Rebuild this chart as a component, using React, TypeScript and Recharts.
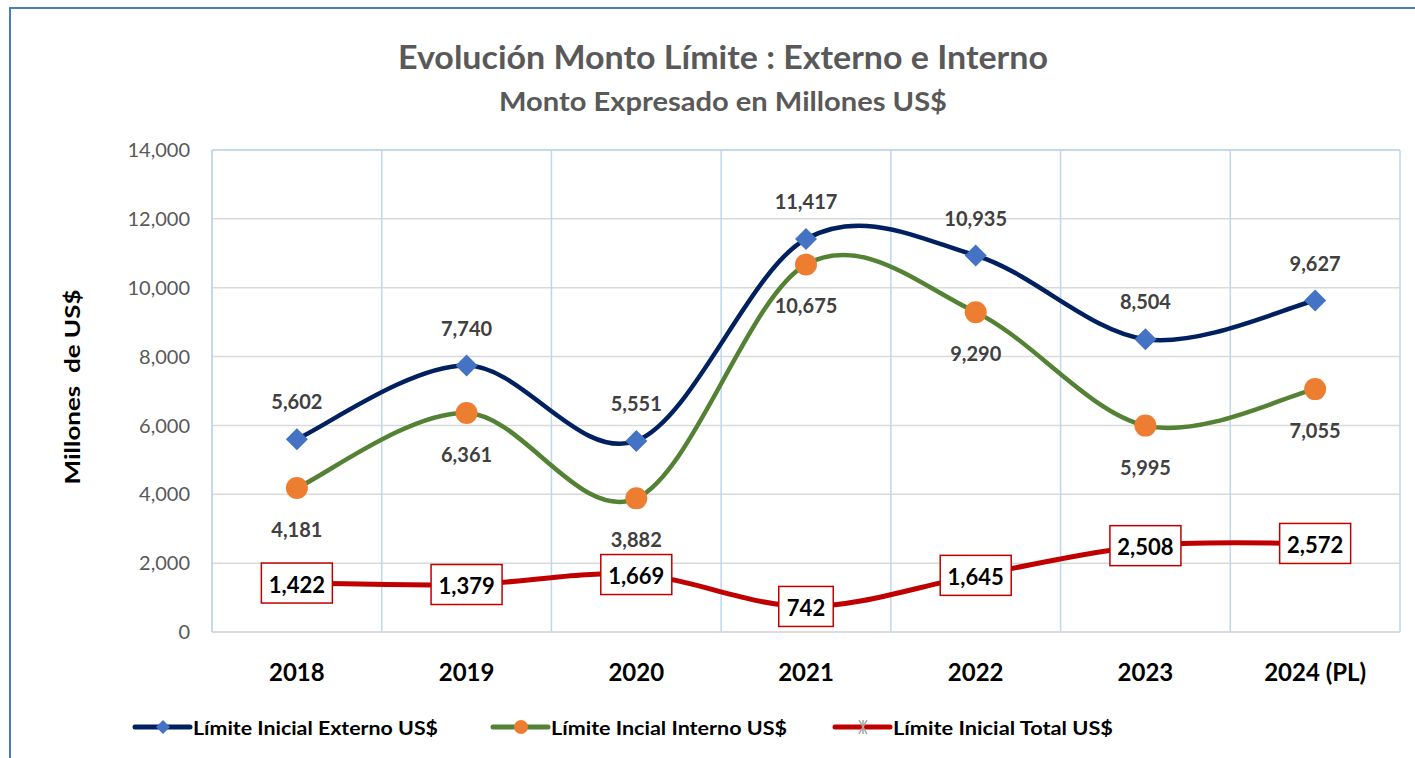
import { LineChart, Line, XAxis, YAxis, CartesianGrid, LabelList, ReferenceLine } from 'recharts'

const categories = ['2018', '2019', '2020', '2021', '2022', '2023', '2024 (PL)']
const externo = [5602, 7740, 5551, 11417, 10935, 8504, 9627]
const interno = [4181, 6361, 3882, 10675, 9290, 5995, 7055]
const total = [1422, 1379, 1669, 742, 1645, 2508, 2572]
const yTicks = [0, 2000, 4000, 6000, 8000, 10000, 12000, 14000]
const seriesNames = ['Límite Inicial Externo US$', 'Límite Incial Interno US$', 'Límite Inicial Total US$']

const data = categories.map((c, i) => ({
  year: c,
  externo: externo[i],
  interno: interno[i],
  total: total[i],
}))

const FONT = 'Lato, "Open Sans", sans-serif'
const NAVY = '#002060'
const GREEN = '#548235'
const RED = '#c00000'
const BLUE_GRID = '#bdd7ee'
const GRAY_GRID = '#d9d9d9'

const fmt = (v: number) => v.toLocaleString('en-US')

// Excel-style smoothing (Catmull-Rom, tension 1/6)
const excelSmooth = (context: any) => {
  let pts: [number, number][] = []
  return {
    areaStart() {},
    areaEnd() {},
    lineStart() {
      pts = []
    },
    lineEnd() {
      if (!pts.length) return
      context.moveTo(pts[0][0], pts[0][1])
      for (let i = 0; i < pts.length - 1; i++) {
        const p0 = pts[i - 1] ?? pts[i]
        const p1 = pts[i]
        const p2 = pts[i + 1]
        const p3 = pts[i + 2] ?? p2
        context.bezierCurveTo(
          p1[0] + (p2[0] - p0[0]) / 6,
          p1[1] + (p2[1] - p0[1]) / 6,
          p2[0] - (p3[0] - p1[0]) / 6,
          p2[1] - (p3[1] - p1[1]) / 6,
          p2[0],
          p2[1],
        )
      }
    },
    point(x: number, y: number) {
      pts.push([+x, +y])
    },
  }
}

const Diamond = (props: any) => {
  const { cx, cy, index } = props
  const s = 11
  return (
    <polygon
      key={`d-${index}`}
      points={`${cx},${cy - s} ${cx + s},${cy} ${cx},${cy + s} ${cx - s},${cy}`}
      fill="#4472c4"
    />
  )
}

const Dot = (props: any) => {
  const { cx, cy, index } = props
  return <circle key={`c-${index}`} cx={cx} cy={cy} r={11} fill="#ed7d31" />
}

const labelAbove = (p: any) => (
  <text
    x={p.x}
    y={p.y - 38}
    textAnchor="middle"
    dominantBaseline="central"
    fontFamily={FONT}
    fontWeight={700}
    fontSize={20}
    fill="#404040"
  >
    {fmt(p.value)}
  </text>
)

const labelBelow = (p: any) => (
  <text
    x={p.x}
    y={p.y + 41}
    textAnchor="middle"
    dominantBaseline="central"
    fontFamily={FONT}
    fontWeight={700}
    fontSize={20}
    fill="#404040"
  >
    {fmt(p.value)}
  </text>
)

const labelBox = (p: any) => {
  const txt = fmt(p.value)
  const digits = txt.replace(/,/g, '').length
  const w = digits * 11.5 + (txt.includes(',') ? 5 : 0) + 20
  const h = 40
  return (
    <g>
      <rect x={p.x - w / 2} y={p.y - h / 2} width={w} height={h} fill="#fff" stroke={RED} strokeWidth={1.5} />
      <text
        x={p.x}
        y={p.y + 1}
        textAnchor="middle"
        dominantBaseline="central"
        fontFamily={FONT}
        fontWeight={700}
        fontSize={22}
        fill="#000"
      >
        {txt}
      </text>
    </g>
  )
}

const legendItems = [
  { x: 135, textW: 245, color: NAVY, marker: 'diamond' },
  { x: 493, textW: 236, color: GREEN, marker: 'circle' },
  { x: 835, textW: 220, color: RED, marker: 'star' },
]

function Overlay() {
  const ly = 727
  return (
    <svg width={1415} height={758} style={{ position: 'absolute', left: 0, top: 0, pointerEvents: 'none' }}>
      <path d="M10 758 L10 8 L1415 8" fill="none" stroke="#4a7ebb" strokeWidth={2} />
      <text
        x={723}
        y={56}
        textAnchor="middle"
        dominantBaseline="central"
        fontFamily={FONT}
        fontWeight={700}
        fontSize={33}
        fill="#595959"
        textLength={650}
        lengthAdjust="spacingAndGlyphs"
      >
        Evolución Monto Límite : Externo e Interno
      </text>
      <text
        x={723}
        y={101}
        textAnchor="middle"
        dominantBaseline="central"
        fontFamily={FONT}
        fontWeight={700}
        fontSize={26}
        fill="#595959"
        textLength={448}
        lengthAdjust="spacingAndGlyphs"
      >
        Monto Expresado en Millones US$
      </text>
      <text
        transform="translate(71,387) rotate(-90)"
        textAnchor="middle"
        dominantBaseline="central"
        fontFamily={FONT}
        fontWeight={700}
        fontSize={21}
        fill="#000"
        textLength={195}
        lengthAdjust="spacingAndGlyphs"
        style={{ whiteSpace: 'pre' }}
      >
        Millones  de US$
      </text>
      {legendItems.map((it, i) => {
        const mx = it.x + 28
        return (
          <g key={i}>
            <line x1={it.x} x2={it.x + 55} y1={ly} y2={ly} stroke={it.color} strokeWidth={5} strokeLinecap="round" />
            {it.marker === 'diamond' && (
              <polygon points={`${mx},${ly - 7} ${mx + 7},${ly} ${mx},${ly + 7} ${mx - 7},${ly}`} fill="#4472c4" />
            )}
            {it.marker === 'circle' && <circle cx={mx} cy={ly} r={7} fill="#ed7d31" />}
            {it.marker === 'star' && (
              <g stroke="#a5a5a5" strokeWidth={1.5}>
                <line x1={mx - 4} y1={ly - 7} x2={mx + 4} y2={ly + 7} />
                <line x1={mx + 4} y1={ly - 7} x2={mx - 4} y2={ly + 7} />
                <line x1={mx} y1={ly - 7} x2={mx} y2={ly + 7} />
              </g>
            )}
            <text
              x={it.x + 58}
              y={ly}
              dominantBaseline="central"
              fontFamily={FONT}
              fontWeight={700}
              fontSize={19}
              fill="#000"
              textLength={it.textW}
              lengthAdjust="spacingAndGlyphs"
            >
              {seriesNames[i]}
            </text>
          </g>
        )
      })}
    </svg>
  )
}

export default function App() {
  return (
    <div style={{ position: 'absolute', left: 0, top: 0, width: 1415, height: 758, background: '#fff', overflow: 'hidden' }}>
      <LineChart width={1415} height={758} data={data} margin={{ top: 150, right: 15, bottom: 66, left: 112 }}>
        <CartesianGrid stroke={GRAY_GRID} strokeWidth={1.5} vertical={false} />
        <CartesianGrid
          stroke={BLUE_GRID}
          strokeWidth={1.5}
          horizontal={false}
          verticalCoordinatesGenerator={({ offset }: any) =>
            categories.map((_, i) => offset.left + (i * offset.width) / categories.length).concat(offset.left + offset.width)
          }
        />
        <ReferenceLine y={14000} stroke={BLUE_GRID} strokeWidth={1.5} />
        <XAxis
          dataKey="year"
          scale="band"
          height={60}
          axisLine={{ stroke: GRAY_GRID, strokeWidth: 1.5 }}
          tickLine={false}
          tickMargin={26}
          tick={{ fontFamily: FONT, fontWeight: 700, fontSize: 24, fill: '#000' }}
          interval={0}
        />
        <YAxis
          width={100}
          domain={[0, 14000]}
          ticks={yTicks}
          axisLine={{ stroke: BLUE_GRID, strokeWidth: 1.5 }}
          tickLine={false}
          tickMargin={16}
          tickFormatter={fmt}
          tick={{ fontFamily: FONT, fontSize: 20, fill: '#595959' }}
        />
        <Line
          type={excelSmooth as any}
          dataKey="externo"
          stroke={NAVY}
          strokeWidth={4.5}
          dot={Diamond}
          activeDot={false}
          isAnimationActive={false}
        >
          <LabelList dataKey="externo" content={labelAbove} />
        </Line>
        <Line
          type={excelSmooth as any}
          dataKey="interno"
          stroke={GREEN}
          strokeWidth={4.5}
          dot={Dot}
          activeDot={false}
          isAnimationActive={false}
        >
          <LabelList dataKey="interno" content={labelBelow} />
        </Line>
        <Line
          type={excelSmooth as any}
          dataKey="total"
          stroke={RED}
          strokeWidth={5}
          dot={false}
          activeDot={false}
          isAnimationActive={false}
        >
          <LabelList dataKey="total" content={labelBox} />
        </Line>
      </LineChart>
      <Overlay />
    </div>
  )
}
